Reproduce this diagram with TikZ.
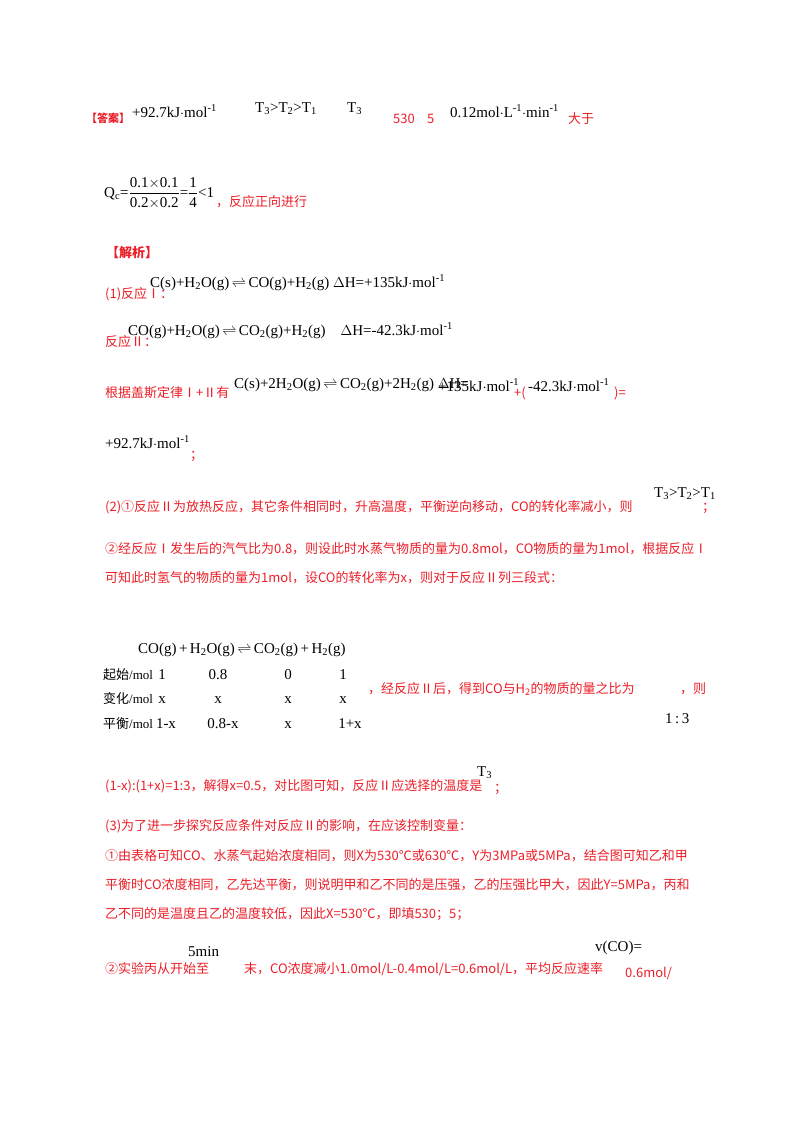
\documentclass[tikz,border=0pt]{standalone}
\usepackage{amsmath}
\usepackage{fontspec}
\setmainfont{Liberation Serif}
\newfontfamily\cjk{Noto Sans CJK SC}
\definecolor{ansred}{RGB}{235,30,40}
\newcommand{\eqarrow}{\,$\rightleftharpoons$\,}
\newcommand{\sub}[1]{\textsubscript{#1}}
\newcommand{\sups}[1]{\textsuperscript{#1}}
\tikzset{
  chem/.style={anchor=base west, inner sep=0pt, font=\fontsize{15}{18}\selectfont},
  note/.style={anchor=base west, inner sep=0pt, text=ansred, font=\cjk\fontsize{13}{16}\selectfont},
  cell/.style={anchor=base, inner sep=0pt, font=\fontsize{15}{18}\selectfont},
  rowlab/.style={anchor=base west, inner sep=0pt, font=\fontsize{13}{16}\selectfont}
}
\begin{document}
\begin{tikzpicture}[x=1pt,y=-1pt]
\useasboundingbox (0,0) rectangle (800,1132);
% answer line
\node (ans) [note,font=\cjk\fontsize{11}{14}\selectfont] at (86,122) {\textbf{【答案】}};
\node (a1) [chem] at (132,117) {+92.7kJ$\cdot$mol\sups{-1}};
\node (a2) [chem] at (255,112) {T\sub{3}>T\sub{2}>T\sub{1}};
\node (a3) [chem] at (347,112) {T\sub{3}};
\node (a4) [note] at (393,123) {530};
\node (a5) [note] at (427,123) {5};
\node (a6) [chem] at (450,117) {0.12mol$\cdot$L\sups{-1}$\cdot$min\sups{-1}};
\node (a7) [note] at (568,123) {大于};
\node (qc) [chem,anchor=west] at (104,193) {Q\sub{c}=$\dfrac{\mbox{0.1$\times$0.1}}{\mbox{0.2$\times$0.2}}$=$\dfrac{\mbox{1}}{\mbox{4}}$<1};
\node (qcn) [note] at (216,206) {，反应正向进行};
% analysis
\node (jx) [note] at (106,257) {\textbf{【解析】}};
\node (r1) [note] at (105,298) {(1)反应Ⅰ：};
\node (r1e) [chem] at (150,287) {C(s)+H\sub{2}O(g)\eqarrow CO(g)+H\sub{2}(g) $\Delta$H=+135kJ$\cdot$mol\sups{-1}};
\node (r2) [note] at (105,346) {反应Ⅱ：};
\node (r2e) [chem] at (128,335) {CO(g)+H\sub{2}O(g)\eqarrow CO\sub{2}(g)+H\sub{2}(g)\quad $\Delta$H=-42.3kJ$\cdot$mol\sups{-1}};
\node (r3) [note] at (105,397) {根据盖斯定律Ⅰ+Ⅱ有};
\node (r3e) [chem] at (234,388) {C(s)+2H\sub{2}O(g)\eqarrow CO\sub{2}(g)+2H\sub{2}(g) $\Delta$H=};
\node (r3a) [chem] at (438,391) {+135kJ$\cdot$mol\sups{-1}};
\node (r3b) [note] at (514,397) {+(};
\node (r3c) [chem] at (528,391) {-42.3kJ$\cdot$mol\sups{-1}};
\node (r3d) [note] at (614,397) {)=};
\node (r4) [chem] at (105,448) {+92.7kJ$\cdot$mol\sups{-1}};
\node (r4s) [note] at (190,459) {；};
% part 2
\node (p2) [note] at (105,511) {(2)①反应Ⅱ为放热反应，其它条件相同时，升高温度，平衡逆向移动，CO的转化率减小，则};
\node (p2t) [chem] at (654,497) {T\sub{3}>T\sub{2}>T\sub{1}};
\node (p2s) [note] at (702,511) {；};
\node (p2b) [note] at (105,553) {②经反应Ⅰ发生后的汽气比为0.8，则设此时水蒸气物质的量为0.8mol，CO物质的量为1mol，根据反应Ⅰ};
\node (p2c) [note] at (105,582) {可知此时氢气的物质的量为1mol，设CO的转化率为x，则对于反应Ⅱ列三段式：};
% three-line table
\node (th) [chem] at (138,653) {CO(g)\,+\,H\sub{2}O(g)\eqarrow CO\sub{2}(g)\,+\,H\sub{2}(g)};
\node (ra) [rowlab] at (103,679) {{\cjk 起始}/mol};
\node (rb) [rowlab] at (103,703) {{\cjk 变化}/mol};
\node (rc) [rowlab] at (103,728) {{\cjk 平衡}/mol};
\foreach \v/\x [count=\i] in {1/162,0.8/218,0/288,1/343} {
  \node (ca\i) [cell] at (\x,679) {\v};
}
\foreach \v/\x [count=\i] in {x/162,x/218,x/288,x/343} {
  \node (cb\i) [cell] at (\x,703) {\v};
}
\foreach \v/\x [count=\i] in {1-x/166,0.8-x/223,x/288,1+x/350} {
  \node (cc\i) [cell] at (\x,728) {\v};
}
\node (tn) [note] at (368,693) {，经反应Ⅱ后，得到CO与H\sub{2}的物质的量之比为};
\node (tn2) [note] at (680,693) {，则};
\node (r13) [chem] at (665,723) {1\,:\,3};
\node (sol) [note] at (105,790) {(1-x):(1+x)=1:3，解得x=0.5，对比图可知，反应Ⅱ应选择的温度是};
\node (solt) [chem] at (477,776) {T\sub{3}};
\node (sols) [note] at (494,792) {；};
% part 3
\node (p3) [note] at (105,830) {(3)为了进一步探究反应条件对反应Ⅱ的影响，在应该控制变量：};
\node (p3a) [note] at (105,860) {①由表格可知CO、水蒸气起始浓度相同，则X为530℃或630℃，Y为3MPa或5MPa，结合图可知乙和甲};
\node (p3b) [note] at (105,889) {平衡时CO浓度相同，乙先达平衡，则说明甲和乙不同的是压强，乙的压强比甲大，因此Y=5MPa，丙和};
\node (p3c) [note] at (105,918) {乙不同的是温度且乙的温度较低，因此X=530℃，即填530；5；};
\node (p3d) [note] at (105,973) {②实验丙从开始至};
\node (p3m) [chem] at (188,956) {5min};
\node (p3e) [note] at (244,973) {末，CO浓度减小1.0mol/L-0.4mol/L=0.6mol/L，平均反应速率};
\node (p3v) [chem] at (595,951) {v(CO)=};
\node (p3f) [note] at (625,977) {0.6mol/};
\end{tikzpicture}
\end{document}
